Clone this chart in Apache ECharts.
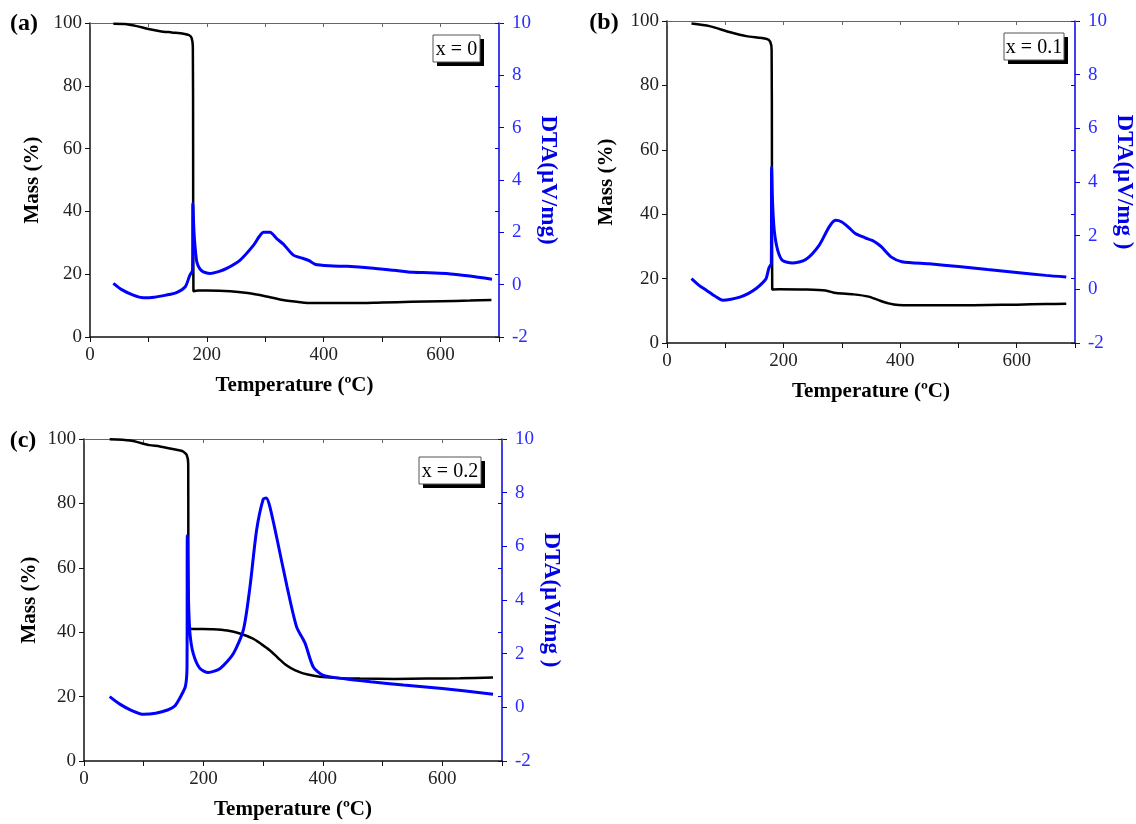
<!DOCTYPE html>
<html>
<head>
<meta charset="utf-8">
<script src="https://cdn.jsdelivr.net/npm/echarts@6/dist/echarts.min.js"></script>
<style>
  html, body { margin: 0; padding: 0; background: #fff; }
  #chart { width: 1136px; height: 824px; }
</style>
</head>
<body>
<div id="chart"></div>
<script>
// ---------- Data (Temperature °C, value) ----------
const panelLabels = ['(a)', '(b)', '(c)'];
const compLabels = ['x = 0', 'x = 0.1', 'x = 0.2'];
const xTickValues = [0, 200, 400, 600];
const massTicks = [0, 20, 40, 60, 80, 100];
const dtaTicks = [-2, 0, 2, 4, 6, 8, 10];

const massA = [[40,99.8],[60,99.7],[80,99.0],[100,98.1],[120,97.4],[140,97.0],[160,96.6],[170,96.1],[174,95.2],[176,92.5],[176.5,60],[177,14.6],[185,14.8],[200,14.8],[240,14.6],[270,14.0],[300,13.0],[330,11.8],[360,11.1],[380,10.8],[400,10.8],[450,10.8],[500,11.0],[550,11.2],[600,11.4],[650,11.6],[687,11.8]];
const dtaA = [[40,0.05],[55,-0.2],[74,-0.4],[91,-0.5],[110,-0.48],[130,-0.4],[148,-0.3],[163,-0.08],[171,0.37],[175.5,0.55],[176,3.1],[178,2.0],[180,1.4],[183,0.85],[188,0.6],[194,0.49],[205,0.43],[220,0.5],[234,0.62],[257,0.94],[280,1.51],[290,1.85],[297,2.0],[308,2.0],[320,1.75],[331,1.55],[348,1.13],[365,1.0],[375,0.92],[385,0.78],[410,0.72],[440,0.70],[480,0.64],[520,0.55],[553,0.47],[580,0.46],[610,0.43],[650,0.33],[688,0.21]];

const massB = [[42,99.2],[73,98.4],[107,96.6],[136,95.3],[170,94.5],[177,93.6],[179.5,91],[180,60],[180.5,16.6],[192,16.7],[240,16.6],[272,16.3],[290,15.5],[320,15.1],[346,14.4],[363,13.3],[380,12.3],[397,11.8],[450,11.7],[500,11.7],[550,11.8],[600,11.9],[650,12.1],[685,12.2]];
const dtaB = [[42,0.4],[55,0.15],[68,-0.04],[82,-0.25],[96,-0.41],[110,-0.37],[125,-0.29],[140,-0.15],[153,0.03],[163,0.22],[170,0.4],[175,0.8],[179,0.96],[179.5,4.55],[181,3.3],[184,2.2],[190,1.45],[198,1.08],[215,0.98],[238,1.11],[261,1.64],[278,2.32],[289,2.57],[300,2.51],[312,2.3],[323,2.08],[340,1.92],[351,1.83],[360,1.72],[368,1.58],[385,1.2],[403,1.03],[450,0.95],[500,0.85],[550,0.74],[600,0.63],[650,0.52],[685,0.46]];

const massC = [[43,99.9],[77,99.5],[110,98.1],[127,97.7],[161,96.4],[166,96.1],[172,95.0],[174.5,92.4],[174.7,70],[175,41.2],[216,40.9],[240,40.5],[261,39.6],[283,38.0],[297,36.3],[311,34.4],[325,32.0],[339,29.7],[353,28.2],[367,27.2],[385,26.5],[406,26.0],[430,25.7],[462,25.6],[520,25.5],[574,25.6],[630,25.7],[685,25.9]];
const dtaC = [[43,0.4],[60,0.12],[80,-0.12],[100,-0.26],[120,-0.22],[140,-0.1],[152,0.05],[163,0.45],[170,0.8],[172.5,1.5],[173,6.4],[175,4.0],[177.5,2.75],[183,2.0],[194,1.45],[208,1.3],[228,1.45],[250,2.0],[267,2.9],[278,4.5],[289,6.6],[300,7.75],[305,7.8],[311,7.5],[323,6.3],[340,4.5],[356,3.0],[370,2.4],[384,1.5],[400,1.2],[434,1.07],[480,0.95],[535,0.83],[600,0.7],[685,0.49]];

const massSets = [massA, massB, massC];
const dtaSets = [dtaA, dtaB, dtaC];
const dtaNames = ['DTA(\u00b5V/mg)', 'DTA(\u00b5V/mg )', 'DTA(\u00b5V/mg )'];

// ---------- Layout ----------
const FONT = '"Liberation Serif", "Times New Roman", serif';
const grids = [
  { left: 90, top: 23, width: 409, height: 314 },
  { left: 667, top: 21, width: 411, height: 322 },
  { left: 84, top: 439, width: 418, height: 322 }
];
const BLUE_LINE = '#0000ff';
const BLUE_AXIS = '#0000e6';
const BLUE_TEXT = '#2b2bff';

const xAxes = [], yAxes = [], series = [];
grids.forEach((g, i) => {
  xAxes.push({
    gridIndex: i, type: 'value', position: 'bottom', min: 0, max: 700, interval: 100,
    name: 'Temperature (\u00baC)', nameLocation: 'middle', nameGap: 38,
    nameTextStyle: { fontFamily: FONT, fontWeight: 'bold', fontSize: 21, color: '#000' },
    axisLine: { onZero: false, lineStyle: { color: '#111', width: 1.5 } },
    axisTick: { inside: false, length: 5, lineStyle: { color: '#111', width: 1 } },
    axisLabel: { fontFamily: FONT, fontSize: 19, color: '#222', margin: 9,
      formatter: v => (xTickValues.indexOf(v) >= 0 ? String(v) : '') },
    splitLine: { show: false }
  });
  xAxes.push({
    gridIndex: i, type: 'value', position: 'top', min: 0, max: 700, interval: 100,
    axisLine: { onZero: false, lineStyle: { color: '#666', width: 1 } },
    axisTick: { inside: true, length: 4, lineStyle: { color: '#666', width: 1 } },
    axisLabel: { show: false }, splitLine: { show: false }
  });
  yAxes.push({
    gridIndex: i, type: 'value', position: 'left', min: 0, max: 100, interval: 20,
    name: 'Mass (%)', nameLocation: 'middle', nameRotate: 90, nameGap: i === 1 ? 50 : (i === 2 ? 44 : 47),
    nameTextStyle: { fontFamily: FONT, fontWeight: 'bold', fontSize: 21, color: '#000' },
    axisLine: { show: true, onZero: false, lineStyle: { color: '#111', width: 1.5 } },
    axisTick: { show: true, inside: false, length: 5, lineStyle: { color: '#111' } },
    axisLabel: { fontFamily: FONT, fontSize: 19, color: '#222', margin: 8,
      formatter: v => (massTicks.indexOf(v) >= 0 ? String(v) : '') },
    splitLine: { show: false }
  });
  yAxes.push({
    gridIndex: i, type: 'value', position: 'right', min: -2, max: 10, interval: 2,
    name: dtaNames[i], nameLocation: 'middle', nameRotate: -90, nameGap: 37,
    nameTextStyle: { fontFamily: FONT, fontWeight: 'bold', fontSize: 23, color: BLUE_AXIS },
    axisLine: { show: true, onZero: false, lineStyle: { color: BLUE_AXIS, width: 1.5 } },
    axisTick: { show: true, inside: false, length: 5, lineStyle: { color: BLUE_AXIS } },
    axisLabel: { fontFamily: FONT, fontSize: 19, color: BLUE_TEXT, margin: 13,
      formatter: v => (dtaTicks.indexOf(v) >= 0 ? String(v) : '') },
    splitLine: { show: false }
  });
  yAxes.push({
    gridIndex: i, type: 'value', position: 'right', min: 0, max: 100, interval: 20,
    axisLine: { show: false, onZero: false },
    axisTick: { show: true, inside: true, length: 4, lineStyle: { color: BLUE_AXIS } },
    axisLabel: { show: false }, splitLine: { show: false }
  });
  series.push({
    type: 'line', xAxisIndex: i * 2, yAxisIndex: i * 3, data: massSets[i],
    showSymbol: false, symbol: 'none', smooth: 0.25, z: 2,
    lineStyle: { color: '#000', width: 2.5 }
  });
  series.push({
    type: 'line', xAxisIndex: i * 2, yAxisIndex: i * 3 + 1, data: dtaSets[i],
    showSymbol: false, symbol: 'none', smooth: 0.25, z: 3,
    lineStyle: { color: BLUE_LINE, width: 3 }
  });
});

// ---------- Graphic: panel letters & composition boxes ----------
const letterPos = [[24, 24], [604, 23], [23, 441]];
const boxes = [
  { x: 433, y: 35, w: 47, h: 27 },
  { x: 1004, y: 33, w: 60, h: 27 },
  { x: 419, y: 457, w: 62, h: 27 }
];
const graphic = [];
panelLabels.forEach((t, i) => {
  graphic.push({
    type: 'text', x: letterPos[i][0], y: letterPos[i][1],
    style: { text: t, fontFamily: FONT, fontWeight: 'bold', fontSize: 24, fill: '#000',
      textAlign: 'center', textVerticalAlign: 'middle' }
  });
});
compLabels.forEach((t, i) => {
  const b = boxes[i];
  graphic.push({ type: 'rect', shape: { x: b.x + 4, y: b.y + 4, width: b.w, height: b.h },
    style: { fill: '#000' }, z: 10 });
  graphic.push({ type: 'rect', shape: { x: b.x, y: b.y, width: b.w, height: b.h },
    style: { fill: '#fff', stroke: '#555', lineWidth: 1 }, z: 11 });
  graphic.push({ type: 'text', x: b.x + b.w / 2, y: b.y + b.h / 2 + 1, z: 12,
    style: { text: t, fontFamily: FONT, fontSize: 20, fill: '#000',
      textAlign: 'center', textVerticalAlign: 'middle' } });
});

const chart = echarts.init(document.getElementById('chart'), null, { renderer: 'canvas' });
chart.setOption({
  backgroundColor: '#fff',
  animation: false,
  grid: grids.map(g => Object.assign({ containLabel: false }, g)),
  xAxis: xAxes,
  yAxis: yAxes,
  series: series,
  graphic: graphic
});
</script>
</body>
</html>
